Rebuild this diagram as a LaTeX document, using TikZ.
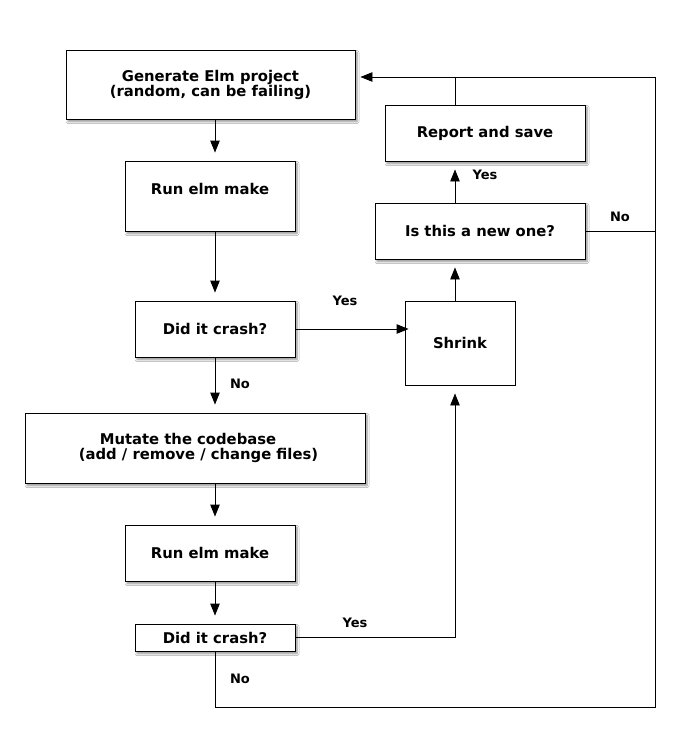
\documentclass[tikz,border=0pt]{standalone}
\usepackage{fontspec}
\setmainfont{DejaVu Sans}
\usetikzlibrary{arrows.meta,shadows.blur}
\tikzset{
  box/.style={draw=black, line width=0.9pt, fill=white, inner sep=0pt, align=center,
    font=\fontsize{14.8}{15}\selectfont\bfseries},
  shad/.style={blur shadow={shadow xshift=2pt, shadow yshift=-2.5pt, shadow blur steps=6, shadow blur radius=2pt, shadow opacity=45}},
  lbl/.style={inner sep=0pt, font=\fontsize{13}{14}\selectfont\bfseries},
  conn/.style={line width=0.9pt, draw=black},
  arr/.style={conn, -{Triangle[length=12pt,width=9.5pt]}},
}
\begin{document}
\begin{tikzpicture}[x=1pt,y=-1pt]
\useasboundingbox (0,0) rectangle (680,742);
\fill[white] (0,0) rectangle (680,742);
% boxes
\node[box,shad,minimum width=289pt,minimum height=69pt] (gen) at (210.5,84.5) {Generate Elm project\\(random, can be failing)};
\node[box,shad,minimum width=170pt,minimum height=70pt] (run1) at (210,196) {Run elm make\\\mbox{}};
\node[box,shad,minimum width=160pt,minimum height=56pt] (crash1) at (215,329) {Did it crash?};
\node[box,shad,minimum width=340pt,minimum height=70pt] (mut) at (195,448) {Mutate the codebase\kern14pt\\\kern7pt(add / remove / change files)};
\node[box,shad,minimum width=170pt,minimum height=56pt] (run2) at (210,553) {Run elm make};
\node[box,shad,minimum width=160pt,minimum height=27pt] (crash2) at (215,637.5) {Did it crash?};
\node[box,minimum width=110pt,minimum height=84pt] (shrink) at (460,343) {Shrink};
\node[box,shad,minimum width=210pt,minimum height=56pt] (isnew) at (480,231) {Is this a new one?};
\node[box,shad,minimum width=200pt,minimum height=56pt] (report) at (485,133) {Report and save};
% helper coordinates
\coordinate (c2r) at (455,637.5);
\coordinate (trR) at (655,77);
\coordinate (brR) at (655,707);
\coordinate (nR) at (655,231);
\coordinate (bL) at (215,707);
\coordinate (rTop) at (455,77);
% connectors
\draw[arr,shorten >=8pt] (gen.south -| 215,0) -- (run1.north -| 215,0);
\draw[arr,shorten >=8pt] (run1.south -| 215,0) -- (crash1.north);
\draw[arr,shorten >=8pt] (crash1.south) -- (mut.north -| 215,0);
\draw[arr,shorten >=8pt] (mut.south -| 215,0) -- (run2.north -| 215,0);
\draw[arr,shorten >=8pt] (run2.south -| 215,0) -- (crash2.north);
\draw[arr,shorten >=-4pt] (crash1.east) -- (crash1.east -| shrink.west);
\draw[arr,shorten >=8pt] (crash2.east) -- (c2r) -- (shrink.south -| c2r);
\draw[arr,shorten >=8pt] (shrink.north -| c2r) -- (isnew.south -| c2r);
\draw[arr,shorten >=8pt] (isnew.north -| c2r) -- (report.south -| c2r);
\draw[conn] (report.north -| c2r) -- (rTop);
\draw[conn] (isnew.east) -- (nR);
\draw[conn] (crash2.south) -- (bL) -- (brR) -- (trR);
\draw[arr,shorten >=5pt] (trR) -- (trR -| gen.east);
% labels
\node[lbl] (l1) at (240,384) {No};
\node[lbl] (l2) at (345,300.5) {Yes};
\node[lbl] (l3) at (355,622.5) {Yes};
\node[lbl] (l4) at (240,678.5) {No};
\node[lbl] (l5) at (485,175) {Yes};
\node[lbl] (l6) at (620,216.5) {No};
\end{tikzpicture}
\end{document}
